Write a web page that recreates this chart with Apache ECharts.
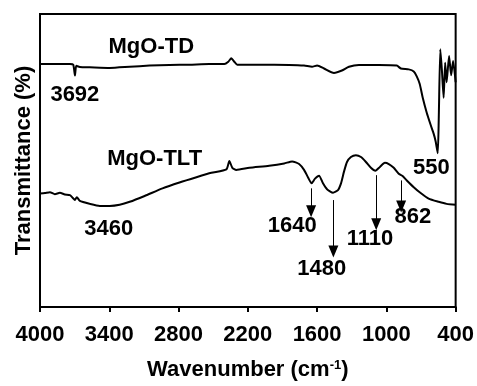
<!DOCTYPE html>
<html>
<head>
<meta charset="utf-8">
<script src="https://cdn.jsdelivr.net/npm/echarts@6/dist/echarts.min.js"></script>
<style>
    html, body { margin: 0; padding: 0; background: #fff; }
    #chart { width: 477px; height: 386px; }
</style>
</head>
<body>
<div id="chart"></div>
<script>
    // wavenumber (cm-1) / transmittance (a.u., 0-100)
    var tdWave = [4000, 3870, 3740, 3712, 3697, 3686, 3655, 3569, 3396, 3223, 3051, 2878, 2705, 2533, 2403, 2369, 2343, 2317, 2291,
        2101, 1842, 1713, 1644, 1600, 1540, 1454, 1385, 1324, 1238, 1065, 910, 875, 806, 763, 737, 711, 685, 651, 616, 590, 573,
        555, 546, 533, 520, 504, 491, 478, 457, 439, 422, 400];
    var tdVal = [82.9, 82.9, 82.9, 82.7, 79.0, 82.3, 81.9, 81.8, 81.6, 82.0, 82.4, 82.6, 82.7, 82.9, 82.9, 83.7, 84.9, 83.7, 82.7,
        82.7, 82.6, 82.4, 82.0, 82.4, 81.4, 79.9, 80.7, 82.0, 82.6, 82.6, 82.4, 81.4, 81.1, 80.4, 78.7, 76.1, 71.4, 66.4, 62.1, 59.1, 56.5,
        52.5, 64.8, 88.0, 81.4, 71.4, 83.4, 76.7, 85.7, 79.1, 84.0, 76.7];

    var tltWave = [4000, 3957, 3914, 3871, 3828, 3785, 3741, 3715, 3698, 3681, 3655, 3569, 3482, 3396, 3310, 3223, 3094, 2939, 2792,
        2645, 2516, 2386, 2360, 2334, 2300, 2187, 2015, 1885, 1816, 1756, 1713, 1678, 1648, 1618, 1583, 1549, 1514, 1462, 1419, 1393,
        1367, 1341, 1307, 1264, 1220, 1177, 1134, 1095, 1056, 1013, 979, 936, 893, 862, 823, 763, 703, 634, 547, 478, 400];
    var tltVal = [38.7, 38.9, 39.2, 38.5, 39.0, 38.4, 38.2, 37.2, 36.5, 37.5, 36.2, 35.2, 34.5, 34.5, 34.9, 35.9, 37.9, 40.5, 42.5,
        44.3, 45.8, 47.0, 49.8, 47.5, 46.8, 47.5, 48.2, 49.0, 49.7, 48.8, 46.8, 44.2, 42.2, 43.8, 44.8, 42.2, 40.2, 39.0, 39.9, 42.2,
        46.2, 49.5, 51.2, 51.8, 51.2, 49.5, 47.5, 46.5, 47.8, 49.2, 48.8, 47.5, 45.5, 44.8, 43.2, 40.9, 38.9, 37.0, 35.9, 35.2, 34.9];

    var xTicks = [4000, 3400, 2800, 2200, 1600, 1000, 400];

    // annotation texts and where they sit
    var noteText = ['MgO-TD', '3692', '550', 'MgO-TLT', '3460', '1640', '1480', '1110', '862'];
    var noteWave = [3036, 3698, 610, 3007, 3404, 1816, 1559, 1142, 771];
    var noteVal = [88.6, 72.5, 47.6, 50.4, 26.6, 27.7, 13.1, 23.3, 30.7];

    // arrows: wavenumber, start value, tip value
    var arrowWave = [1652, 1459, 1088, 872];
    var arrowFrom = [40.5, 36.5, 45.0, 43.2];
    var arrowTo = [32.7, 18.9, 28.2, 34.3];

    var X_TOP = 4000; // axis runs 4000 -> 400, drawn as 4000 - wn
    function toX(w) { return X_TOP - w; }

    function pairs(ws, vs) {
        var out = [];
        for (var i = 0; i < ws.length; i++) {
            out.push([toX(ws[i]), vs[i]]);
        }
        return out;
    }

    var notes = [];
    for (var i = 0; i < noteText.length; i++) {
        notes.push({ name: noteText[i], value: [toX(noteWave[i]), noteVal[i]] });
    }
    var arrows = [];
    for (var j = 0; j < arrowWave.length; j++) {
        arrows.push([{ coord: [toX(arrowWave[j]), arrowFrom[j]] }, { coord: [toX(arrowWave[j]), arrowTo[j]] }]);
    }

    var font = 'Liberation Sans, Arial, sans-serif';
    var myChart = echarts.init(document.getElementById('chart'));

    var option = {
        animation: false,
        backgroundColor: '#fff',
        grid: {
            left: 40, right: 20, top: 14, bottom: 71,
            show: true, borderColor: '#000', borderWidth: 2
        },
        xAxis: {
            type: 'value',
            min: 0, max: 3600, interval: 600,
            axisLine: { show: true, lineStyle: { color: '#000', width: 2 } },
            axisTick: { show: true, inside: false, length: 5, lineStyle: { color: '#000', width: 2 } },
            splitLine: { show: false },
            axisLabel: {
                color: '#000', fontSize: 22, fontWeight: 'bold', fontFamily: font, margin: 17,
                formatter: function (v) { return String(X_TOP - v); }
            },
            name: '{a|Wavenumber (cm}{s|-1}{a|)}',
            nameLocation: 'middle',
            nameGap: 52,
            nameTextStyle: {
                rich: {
                    a: { fontSize: 22, fontWeight: 'bold', fontFamily: font, color: '#000' },
                    s: { fontSize: 13, fontWeight: 'bold', fontFamily: font, color: '#000', verticalAlign: 'top' }
                }
            }
        },
        yAxis: {
            type: 'value',
            min: 0, max: 100,
            axisLine: { show: true, lineStyle: { color: '#000', width: 2 } },
            axisTick: { show: false },
            axisLabel: { show: false },
            splitLine: { show: false },
            name: 'Transmittance (%)',
            nameLocation: 'middle',
            nameRotate: 90,
            nameGap: 5,
            nameTextStyle: { color: '#000', fontSize: 22, fontWeight: 'bold', fontFamily: font }
        },
        series: [{
            name: 'MgO-TD',
            type: 'line',
            data: pairs(tdWave, tdVal),
            showSymbol: false,
            smooth: 0.2,
            lineStyle: { color: '#000', width: 2 }
        }, {
            name: 'MgO-TLT',
            type: 'line',
            data: pairs(tltWave, tltVal),
            showSymbol: false,
            smooth: 0.2,
            lineStyle: { color: '#000', width: 2 }
        }, {
            // text labels + arrows
            type: 'scatter',
            data: notes,
            symbolSize: 0,
            silent: true,
            itemStyle: { opacity: 1 },
            label: {
                show: true,
                position: 'inside',
                formatter: function (p) { return p.name; },
                color: '#000', opacity: 1, fontSize: 22, fontWeight: 'bold', fontFamily: font
            },
            markLine: {
                silent: true,
                symbol: ['none', 'triangle'],
                symbolSize: [10, 12],
                label: { show: false },
                lineStyle: { color: '#000', width: 1, type: 'solid', opacity: 1 },
                data: arrows
            }
        }]
    };
    myChart.setOption(option);
</script>
</body>
</html>
